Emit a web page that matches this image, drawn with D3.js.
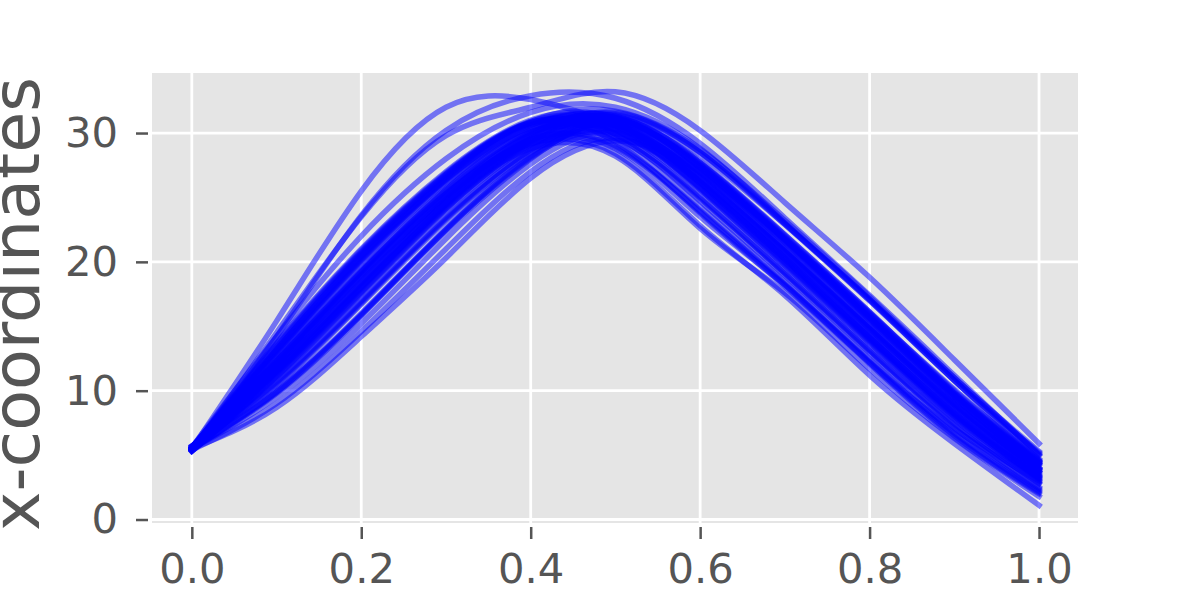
<!DOCTYPE html>
<head>
    <meta charset='utf-8'>
    <title>x-coordinates</title>
    <script src='https://d3js.org/d3.v7.min.js'></script>
    <style>
        html, body {
            width: 100%;
            height: 100%;
            padding: 0px;
            margin: 0px;
            background: white;
        }
        svg {
            display: block;
        }
        text {
            font-family: 'DejaVu Sans', sans-serif;
            fill: #555555;
        }
    </style>
</head>

<body>
    <div id='chart'></div>

    <script>
        // sample positions along x (each curve is given at these points)
        var xs = [0, 0.1, 0.2, 0.3, 0.4, 0.5, 0.6, 0.7, 0.8, 0.9, 1.0];

        // curve values, one row per curve
        var curves = [
            [5.5, 13.6, 20.9, 26.9, 30.9, 30.8, 26.7, 20.9, 14.9, 8.8, 3.6],
            [5.4, 12.9, 20.1, 26.3, 30.5, 31.3, 27.7, 22.0, 16.0, 9.8, 4.4],
            [5.6, 12.3, 19.3, 25.6, 30.1, 30.2, 25.7, 19.9, 13.9, 8.0, 3.0],
            [5.5, 11.7, 18.4, 24.8, 29.6, 31.4, 28.3, 22.9, 17.1, 10.8, 5.2],
            [5.3, 11.1, 17.6, 24.1, 29.1, 29.6, 24.7, 18.9, 12.9, 7.1, 2.4],
            [5.7, 10.5, 16.8, 23.3, 28.6, 31.1, 27.3, 21.6, 15.5, 9.4, 4.2],
            [5.5, 9.9, 15.9, 22.5, 28.1, 30.8, 27.3, 21.7, 15.7, 9.6, 4.3],
            [5.4, 12.1, 18.9, 25.1, 29.9, 30.6, 26.2, 20.3, 14.2, 8.2, 3.1],
            [5.6, 13.1, 20.4, 26.5, 30.7, 29.3, 23.8, 18.1, 12.1, 6.4, 2.0],
            [5.5, 11.4, 18.0, 24.4, 29.4, 30.9, 26.9, 21.0, 14.8, 8.7, 3.7],
            [5.5, 13.4, 20.7, 26.8, 30.8, 29.9, 25.0, 19.1, 13.1, 7.4, 2.8],
            [5.4, 12.7, 19.9, 26.1, 30.4, 30.7, 26.3, 20.4, 14.3, 8.4, 3.4],
            [5.6, 12.4, 19.4, 25.7, 30.2, 31.2, 27.4, 21.7, 15.6, 9.5, 4.3],
            [5.5, 11.8, 18.5, 24.9, 29.7, 30.3, 25.8, 20.0, 14.0, 8.1, 3.2],
            [5.3, 11.2, 17.7, 24.2, 29.2, 31.2, 27.7, 22.1, 16.1, 9.9, 4.6],
            [5.7, 10.6, 16.9, 23.4, 28.7, 30.6, 26.6, 20.8, 14.8, 8.9, 3.9],
            [5.5, 10.0, 16.0, 22.6, 28.2, 30.3, 26.1, 20.2, 14.1, 8.3, 3.5],
            [5.4, 12.0, 18.8, 25.0, 29.8, 31.6, 28.5, 22.9, 17.0, 10.8, 5.0],
            [5.6, 13.2, 20.5, 26.6, 30.8, 30.2, 25.6, 19.7, 13.7, 7.8, 2.9],
            [5.5, 11.5, 18.1, 24.5, 29.5, 29.0, 24.0, 18.3, 12.3, 6.7, 2.2],
            [5.5, 13.7, 21.0, 27.0, 31.0, 31.2, 27.5, 21.7, 15.6, 9.5, 4.0],
            [5.4, 12.8, 20.0, 26.2, 30.4, 29.7, 24.9, 19.1, 13.1, 7.3, 2.5],
            [5.6, 12.2, 19.2, 25.5, 30.0, 31.5, 28.5, 23.0, 17.1, 11.0, 5.1],
            [5.5, 11.6, 18.3, 24.7, 29.5, 28.9, 23.9, 18.2, 12.2, 6.5, 2.1],
            [5.3, 11.0, 17.5, 24.0, 29.0, 30.5, 26.2, 20.3, 14.2, 8.3, 3.3],
            [5.7, 10.4, 16.7, 23.2, 28.5, 30.1, 25.7, 19.8, 13.8, 8.0, 3.4],
            [5.5, 9.8, 15.8, 22.4, 28.0, 30.9, 27.2, 21.5, 15.4, 9.4, 4.4],
            [5.4, 12.2, 19.0, 25.2, 30.0, 30.7, 26.6, 20.8, 14.8, 8.9, 3.8],
            [5.6, 13.0, 20.3, 26.4, 30.6, 31.3, 27.8, 22.1, 16.1, 10.0, 4.7],
            [5.5, 11.3, 17.9, 24.3, 29.3, 30.6, 26.2, 20.3, 14.2, 8.2, 3.2],
            [5.5, 13.5, 20.8, 26.8, 30.9, 31.7, 28.7, 23.2, 17.3, 11.0, 5.3],
            [5.6, 12.3, 19.3, 25.6, 30.1, 29.4, 24.3, 18.5, 12.5, 6.8, 2.3],
            [5.3, 11.1, 17.6, 24.1, 29.1, 30.7, 26.8, 21.0, 15.0, 9.0, 3.9],
            [5.5, 9.9, 15.9, 22.5, 28.1, 30.0, 25.6, 19.7, 13.7, 7.9, 3.3],
            [5.4, 12.1, 18.9, 25.1, 29.9, 31.2, 27.6, 21.9, 15.9, 9.8, 4.5],
            [5.5, 13.0, 20.2, 26.4, 30.6, 30.9, 26.9, 21.1, 15.0, 9.0, 3.7],
            [5.5, 11.6, 18.2, 24.6, 29.5, 31.0, 27.5, 21.8, 15.8, 9.7, 4.3],
            [5.6, 10.7, 17.0, 23.5, 28.7, 30.4, 26.1, 20.2, 14.1, 8.4, 3.7],
            [5.6, 13.2, 20.6, 26.7, 30.8, 29.9, 25.1, 19.2, 13.2, 7.5, 2.8],
            [5.5, 11.5, 18.1, 24.5, 29.5, 31.1, 27.3, 21.6, 15.5, 9.6, 4.5],
            [5.5, 9.5, 15.2, 21.8, 27.6, 30.0, 26.4, 20.8, 14.8, 9.0, 4.0],
            [5.4, 9.0, 14.6, 21.0, 27.0, 29.6, 26.2, 20.6, 14.6, 8.9, 3.9],
            [5.5, 8.7, 14.2, 20.3, 26.5, 29.4, 27.0, 21.8, 16.0, 10.1, 4.5],
            [5.5, 12.0, 19.0, 25.3, 29.2, 28.4, 22.8, 17.4, 11.2, 5.9, 1.1],
            [5.6, 11.6, 18.3, 24.6, 28.8, 28.2, 22.6, 17.6, 11.7, 6.3, 1.8],
            [5.5, 12.3, 19.2, 25.3, 29.2, 28.8, 23.5, 18.2, 12.2, 7.0, 3.0],
            [5.5, 15.4, 25.5, 32.0, 32.6, 30.6, 27.0, 21.5, 15.6, 9.6, 3.9],
            [5.5, 14.2, 23.6, 30.2, 32.9, 32.7, 29.2, 23.4, 17.4, 11.2, 5.0],
            [5.4, 14.5, 23.5, 29.8, 32.0, 33.2, 30.2, 24.6, 18.8, 12.4, 5.9],
            [5.6, 14.2, 22.0, 28.0, 31.6, 32.0, 28.8, 23.0, 17.0, 10.8, 4.6]
        ];

        var xTicks = [0, 0.2, 0.4, 0.6, 0.8, 1.0];
        var yTicks = [0, 10, 20, 30];
        var yLabel = 'x-coordinates';

        var width = 1200, height = 600;
        var plot = {left: 152, right: 1078, top: 73, bottom: 523};

        var svg = d3.select('#chart').append('svg')
            .attr('width', width)
            .attr('height', height);

        var x = d3.scaleLinear()
            .domain([-0.047, 1.046])
            .range([plot.left, plot.right]);

        var y = d3.scaleLinear()
            .domain([-0.27, 34.66])
            .range([plot.bottom, plot.top]);

        // grey panel
        svg.append('rect')
            .attr('x', plot.left)
            .attr('y', plot.top)
            .attr('width', plot.right - plot.left)
            .attr('height', plot.bottom - plot.top)
            .attr('fill', '#e5e5e5');

        // white grid
        svg.append('g')
            .selectAll('line')
            .data(xTicks)
            .enter()
            .append('line')
            .attr('x1', function(d) { return x(d); })
            .attr('x2', function(d) { return x(d); })
            .attr('y1', plot.top)
            .attr('y2', plot.bottom)
            .attr('stroke', 'white')
            .attr('stroke-width', 2.8);

        svg.append('g')
            .selectAll('line')
            .data(yTicks)
            .enter()
            .append('line')
            .attr('y1', function(d) { return y(d); })
            .attr('y2', function(d) { return y(d); })
            .attr('x1', plot.left)
            .attr('x2', plot.right)
            .attr('stroke', 'white')
            .attr('stroke-width', 2.8);

        // curves
        var line = d3.line()
            .x(function(d, i) { return x(xs[i]); })
            .y(function(d) { return y(d); })
            .curve(d3.curveNatural);

        svg.append('g')
            .selectAll('path')
            .data(curves)
            .enter()
            .append('path')
            .attr('d', line)
            .attr('fill', 'none')
            .attr('stroke', 'blue')
            .attr('stroke-opacity', 0.5)
            .attr('stroke-width', 5.5)
            .attr('stroke-linecap', 'square')
            .attr('stroke-linejoin', 'round');

        // axes
        var xAxis = d3.axisBottom(x)
            .tickValues(xTicks)
            .tickFormat(d3.format('.1f'))
            .tickSize(12)
            .tickPadding(14);

        var yAxis = d3.axisLeft(y)
            .tickValues(yTicks)
            .tickFormat(d3.format('d'))
            .tickSize(12)
            .tickPadding(18);

        var gx = svg.append('g')
            .attr('transform', 'translate(0,' + (plot.bottom + 4) + ')')
            .call(xAxis);

        var gy = svg.append('g')
            .attr('transform', 'translate(' + (plot.left - 4) + ',0)')
            .call(yAxis);

        [gx, gy].forEach(function(g) {
            g.select('.domain').remove();
            g.selectAll('.tick line')
                .attr('stroke', '#555555')
                .attr('stroke-width', 2.5);
            g.selectAll('.tick text')
                .attr('fill', '#555555')
                .style('font-size', '41.7px')
                .style('font-family', "'DejaVu Sans', sans-serif");
        });

        svg.append('text')
            .attr('transform', 'translate(39,' + ((plot.top + plot.bottom) / 2 + 6) + ') rotate(-90)')
            .attr('text-anchor', 'middle')
            .style('font-size', '66.7px')
            .text(yLabel);
    </script>
</body>
